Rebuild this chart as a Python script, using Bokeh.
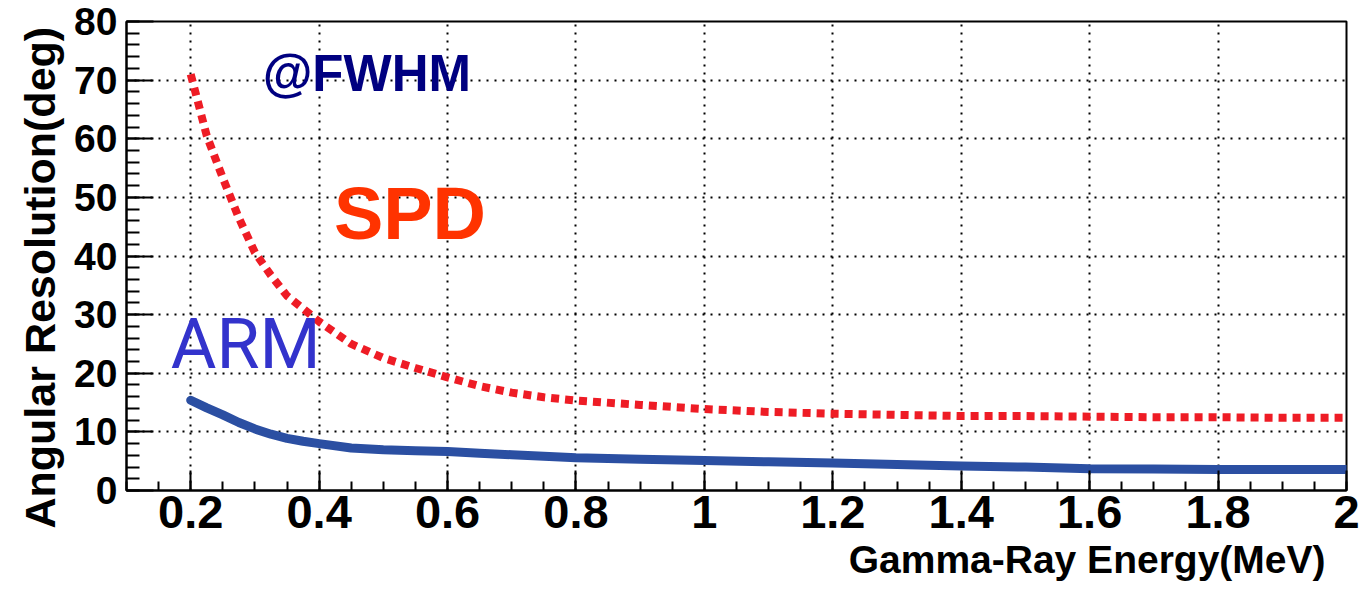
import numpy as np
from bokeh.plotting import figure
from bokeh.models import FixedTicker, Label, Title
from bokeh.embed import file_html
from bokeh.resources import INLINE

# ---- data ----
energy = [0.2, 0.225, 0.25, 0.275, 0.3, 0.325, 0.35, 0.375, 0.4, 0.45, 0.5, 0.55,
          0.6, 0.65, 0.7, 0.75, 0.8, 0.9, 1.0, 1.1, 1.2, 1.3, 1.4, 1.5, 1.6,
          1.7, 1.8, 1.9, 2.0]
spd = [71.0, 60.5, 53.3, 46.5, 40.6, 36.7, 33.2, 31.0, 28.8, 25.0, 22.6, 20.9,
       19.3, 17.8, 16.7, 15.9, 15.35, 14.6, 13.9, 13.4, 13.1, 12.9, 12.7, 12.7, 12.6,
       12.5, 12.5, 12.4, 12.4]
arm = [15.4, 14.1, 12.9, 11.6, 10.5, 9.6, 8.9, 8.4, 8.0, 7.25, 6.95, 6.8,
       6.65, 6.35, 6.1, 5.85, 5.6, 5.35, 5.1, 4.9, 4.7, 4.45, 4.2, 4.0, 3.7,
       3.65, 3.6, 3.6, 3.6]

x_ticks = [0.2, 0.4, 0.6, 0.8, 1.0, 1.2, 1.4, 1.6, 1.8, 2.0]
x_tick_labels = ["0.2", "0.4", "0.6", "0.8", "1", "1.2", "1.4", "1.6", "1.8", "2"]
y_ticks = [0, 10, 20, 30, 40, 50, 60, 70, 80]
y_tick_labels = ["0", "10", "20", "30", "40", "50", "60", "70", "80"]

x_title = "Gamma-Ray Energy(MeV)"
y_title = "Angular Resolution(deg)"
ann_text = ["@FWHM", "SPD", "ARM"]
ann_x = [0.312, 0.423, 0.169]
ann_y = [66.3, 40.2, 18.0]

FONT = "Liberation Sans"

p = figure(width=1366, height=602, x_range=(0.1, 2.0), y_range=(0, 80),
           output_backend="svg", toolbar_location=None,
           min_border_left=126, min_border_right=20,
           min_border_top=21, min_border_bottom=112)
p.background_fill_color = "white"
p.border_fill_color = "white"
p.outline_line_color = "black"
p.outline_line_width = 2

# axes
xa = p.xaxis[0]
xa.ticker = FixedTicker(ticks=x_ticks,
                        minor_ticks=list(np.round(np.arange(0.1, 2.0001, 0.05), 3)))
xa.major_label_overrides = {t: l for t, l in zip(x_ticks, x_tick_labels)}
ya = p.yaxis[0]
ya.ticker = FixedTicker(ticks=y_ticks, minor_ticks=list(range(0, 81, 2)))
ya.major_label_overrides = {t: l for t, l in zip(y_ticks, y_tick_labels)}

for ax in (xa, ya):
    ax.axis_line_color = "black"
    ax.axis_line_width = 2
    ax.major_tick_line_color = "black"
    ax.minor_tick_line_color = "black"
    ax.major_tick_line_width = 2
    ax.minor_tick_line_width = 2
    ax.major_tick_out = 0
    ax.minor_tick_out = 0
    ax.major_label_text_font = FONT
    ax.major_label_text_font_style = "bold"
    ax.major_label_text_color = "black"

xa.major_tick_in = 20
xa.minor_tick_in = 9
xa.major_label_text_font_size = "47px"
xa.major_label_standoff = 5
ya.major_tick_in = 27
ya.minor_tick_in = 13
ya.major_label_text_font_size = "39px"
ya.major_label_standoff = 9

for g in (p.xgrid[0], p.ygrid[0]):
    g.grid_line_color = "black"
    g.grid_line_width = 2
    g.grid_line_dash = "2 6"
    g.grid_line_alpha = 1.0

# curves
p.line(energy, arm, line_color="#2b4fa2", line_width=9, line_cap="round", line_join="round")
p.line(energy, spd, line_color="#ee1c25", line_width=8, line_dash="8 6")

# annotations
p.add_layout(Label(x=ann_x[0], y=ann_y[0], text=ann_text[0], text_font=FONT,
                   text_font_style="bold", text_font_size="51px", text_color="#000080"))
p.add_layout(Label(x=ann_x[1], y=ann_y[1], text=ann_text[1], text_font=FONT,
                   text_font_style="bold", text_font_size="74px", text_color="#ff3300"))
p.add_layout(Label(x=ann_x[2], y=ann_y[2], text=ann_text[2], text_font="Roboto",
                   text_font_size="70px", text_color="#3333cc"))

# axis titles
p.add_layout(Title(text=x_title, align="right", offset=21, standoff=10,
                   text_font=FONT, text_font_style="bold", text_font_size="39px",
                   text_color="black"), "below")
p.add_layout(Title(text=y_title, align="left", offset=-38, standoff=15,
                   text_font=FONT, text_font_style="bold", text_font_size="43px",
                   text_color="black"), "left")

open("out.html", "w").write(file_html(p, INLINE))
